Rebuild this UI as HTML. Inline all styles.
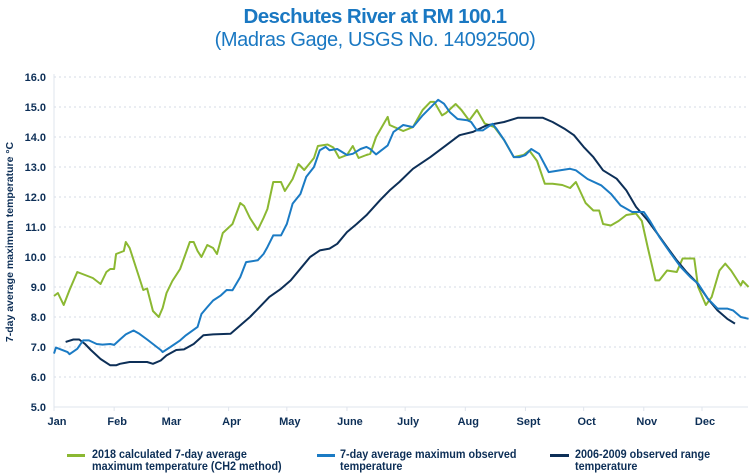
<!DOCTYPE html>
<html><head><meta charset="utf-8">
<style>
body{margin:0;background:#fff;width:750px;height:475px;overflow:hidden;font-family:"Liberation Sans",sans-serif}
.t1{position:absolute;left:0;width:750px;text-align:center;top:5px;font-size:20.5px;font-weight:bold;color:#1a78c2;letter-spacing:-0.6px}
.t2{position:absolute;left:0;width:750px;text-align:center;top:29px;font-size:20px;color:#1a78c2;letter-spacing:-0.4px}
.leg{position:absolute;top:448px;font-size:12px;font-weight:bold;color:#0d2f57;line-height:12px;white-space:nowrap;transform:scaleX(0.9);transform-origin:0 0}
.sw{position:absolute;height:3px;top:454px}
</style></head><body>
<div class="t1">Deschutes River at RM 100.1</div>
<div class="t2">(Madras Gage, USGS No. 14092500)</div>
<svg id="c" width="750" height="475" style="position:absolute;left:0;top:0"></svg>
<span class="sw" style="left:67px;width:18px;background:#8bb832"></span>
<div class="leg" style="left:92px">2018 calculated 7-day average<br>maximum temperature (CH2 method)</div>
<span class="sw" style="left:317px;width:18px;background:#1b7bc4"></span>
<div class="leg" style="left:340px">7-day average maximum observed<br>temperature</div>
<span class="sw" style="left:550px;width:19px;background:#0d2f57"></span>
<div class="leg" style="left:575px">2006-2009 observed range<br>temperature</div>
<script>
const yTicks=[5,6,7,8,9,10,11,12,13,14,15,16];
const months=["Jan","Feb","Mar","Apr","May","June","July","Aug","Sept","Oct","Nov","Dec"];
const monthDays=[0,31,59,90,120,151,181,212,243,273,304,334];
const greenDays=[0,2,5,8,12,16,20,24,27,29,31,32,36,37,39,43,46,48,51,54,56,58,61,65,70,72,74,76,79,82,84,87,92,96,98,101,105,108,110,113,117,119,123,126,129,134,136,141,144,147,151,154,157,161,163,166,172,173,180,185,190,194,196,200,202,207,210,214,218,222,227,232,237,242,245,249,253,257,262,266,269,274,278,281,283,287,291,295,300,303,306,310,312,316,321,324,330,332,336,339,343,346,349,354,355,358];
const greenVals=[8.7,8.8,8.4,8.9,9.5,9.4,9.3,9.1,9.5,9.6,9.6,10.1,10.2,10.5,10.3,9.5,8.9,8.95,8.2,8.0,8.3,8.8,9.2,9.6,10.5,10.5,10.2,10.0,10.4,10.3,10.1,10.8,11.1,11.8,11.7,11.3,10.9,11.3,11.6,12.5,12.5,12.2,12.6,13.1,12.9,13.3,13.7,13.75,13.65,13.3,13.4,13.7,13.3,13.4,13.44,14.0,14.67,14.4,14.2,14.33,14.9,15.17,15.17,14.72,14.8,15.1,14.9,14.55,14.9,14.45,14.33,13.9,13.33,13.4,13.55,13.2,12.44,12.44,12.4,12.3,12.5,11.8,11.55,11.55,11.1,11.05,11.2,11.4,11.45,11.2,10.33,9.22,9.22,9.55,9.5,9.95,9.95,9.0,8.4,8.67,9.55,9.78,9.55,9.05,9.2,9.0];
const blueDays=[0,1,7,8,12,15,18,22,25,29,31,34,37,41,44,48,51,55,56,60,65,68,74,76,79,82,86,89,92,96,99,105,108,110,113,117,120,123,127,130,134,137,140,142,146,151,154,158,161,163,166,172,175,180,185,190,196,198,201,204,208,213,215,218,221,226,228,232,237,240,243,246,250,255,261,266,269,275,282,287,292,298,304,307,312,318,323,328,332,337,342,347,350,354,358];
const blueVals=[6.78,6.98,6.83,6.76,6.94,7.22,7.22,7.1,7.08,7.1,7.07,7.25,7.42,7.55,7.44,7.25,7.1,6.9,6.83,7.0,7.22,7.39,7.67,8.1,8.33,8.55,8.72,8.9,8.89,9.33,9.83,9.89,10.1,10.33,10.72,10.72,11.1,11.78,12.1,12.67,13.0,13.56,13.67,13.56,13.6,13.4,13.44,13.6,13.67,13.6,13.42,13.72,14.17,14.4,14.33,14.72,15.11,15.24,15.11,14.83,14.6,14.56,14.5,14.22,14.22,14.44,14.28,13.9,13.33,13.33,13.4,13.6,13.44,12.83,12.89,12.94,12.89,12.6,12.39,12.11,11.72,11.5,11.5,11.22,10.67,10.11,9.67,9.33,9.11,8.61,8.28,8.28,8.22,8.0,7.94];
const navyDays=[6,10,13,16,19,24,29,32,34,39,48,51,55,58,63,67,72,77,82,91,96,101,106,111,117,122,127,132,137,142,146,151,156,161,168,173,178,185,194,202,209,216,223,232,239,245,252,257,263,268,273,278,283,290,295,300,306,311,316,321,326,331,337,342,347,351];
const navyVals=[7.17,7.25,7.25,7.1,6.9,6.6,6.39,6.39,6.44,6.5,6.5,6.44,6.55,6.72,6.9,6.92,7.1,7.39,7.42,7.44,7.72,8.0,8.33,8.67,8.94,9.22,9.61,10.0,10.22,10.28,10.44,10.83,11.1,11.39,11.89,12.22,12.5,12.94,13.33,13.72,14.06,14.17,14.39,14.5,14.64,14.64,14.64,14.5,14.28,14.06,13.67,13.33,12.89,12.61,12.22,11.67,11.22,10.78,10.33,9.89,9.5,9.17,8.61,8.22,7.94,7.78];
const X0=54,X1=748,Y0=407,Y1=77;
const xs=d=>X0+d*(702-54)/334;
const ys=v=>Y0-(v-5)*(Y0-Y1)/11;
const svg=document.getElementById('c');const NS='http://www.w3.org/2000/svg';
function mk(t,a){const e=document.createElementNS(NS,t);for(const k in a)e.setAttribute(k,a[k]);svg.appendChild(e);return e;}
yTicks.forEach(v=>{
 if(v>5){const g=mk('line',{x1:X0,x2:X1,y1:ys(v),y2:ys(v),stroke:'#d5dbe6','stroke-dasharray':'2,3','stroke-width':1});
 
 }
 const t=mk('text',{x:46,y:ys(v)+4,'text-anchor':'end','font-size':11,'font-weight':'bold',fill:'#0d2f57'});t.textContent=v.toFixed(1);
 
 
});
const ax=mk('line',{x1:X0,x2:X0,y1:Y1-3,y2:Y0,stroke:'#dfe4ec','stroke-width':1});


const bx=mk('line',{x1:X0,x2:X1,y1:Y0,y2:Y0,stroke:'#dfe4ec','stroke-width':1});


months.forEach((m,i)=>{
 const x=xs(monthDays[i]);
 const tk=mk('line',{x1:x,x2:x,y1:Y0,y2:Y0+4,stroke:'#dfe4ec'});
 
 
 const t=mk('text',{x:x+3,y:425,'text-anchor':'middle','font-size':11,'font-weight':'bold',fill:'#0d2f57'});t.textContent=m;
 
 
});
const yt=mk('text',{x:0,y:0,transform:'translate(13,242) rotate(-90)','text-anchor':'middle','font-size':10.5,'font-weight':'bold',fill:'#0d2f57'});
yt.textContent='7-day average maximum temperature °C';


function line(ds,vs,col,name){
 const p=mk('polyline',{points:ds.map((d,i)=>xs(d)+','+ys(vs[i])).join(' '),fill:'none',stroke:col,'stroke-width':2,'stroke-linejoin':'round'});
 
 
}
line(greenDays,greenVals,'#8bb832','series-2018-calculated');
line(navyDays,navyVals,'#0d2f57','series-2006-2009-range');
line(blueDays,blueVals,'#1b7bc4','series-observed');
</script>
</body></html>
